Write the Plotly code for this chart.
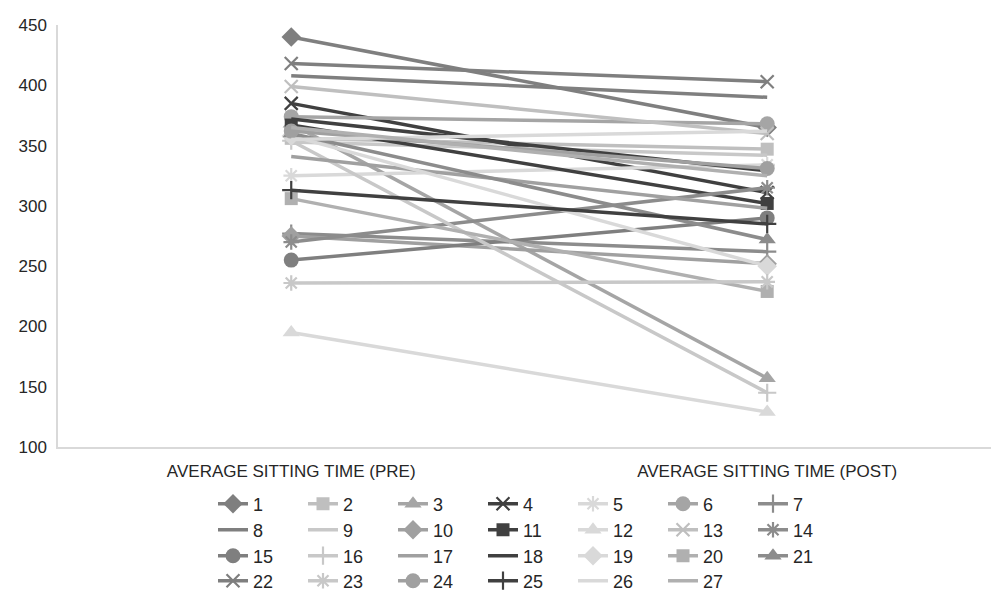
import plotly.graph_objects as go

categories = ["AVERAGE SITTING TIME (PRE)", "AVERAGE SITTING TIME (POST)"]
names = [str(i) for i in range(1, 28)]
pre = [440, 356, 368, 385, 325, 374, 277, 408, 353, 275, 367, 195, 399, 270,
       255, 354, 341, 372, 358, 306, 360, 418, 236, 362, 313, 355, 365]
post = [365, 347, 157, 311, 334, 368, 262, 390, 342, 252, 302, 129, 360, 315,
        290, 145, 298, 329, 250, 229, 272, 403, 237, 331, 285, 362, 325]
y_ticks = [100, 150, 200, 250, 300, 350, 400, 450]

colors = ["#7f7f7f", "#bfbfbf", "#a5a5a5", "#404040", "#d9d9d9", "#a5a5a5", "#8c8c8c",
          "#7f7f7f", "#c8c8c8", "#a0a0a0", "#404040", "#d9d9d9", "#bfbfbf", "#8c8c8c",
          "#7f7f7f", "#c8c8c8", "#a0a0a0", "#404040", "#d9d9d9", "#b0b0b0", "#8c8c8c",
          "#7f7f7f", "#c8c8c8", "#a0a0a0", "#404040", "#d9d9d9", "#b0b0b0"]
symbols = ["diamond", "square", "triangle-up", "x-thin-open", "asterisk-open", "circle", "cross-thin-open",
           None, None, "diamond", "square", "triangle-up", "x-thin-open", "asterisk-open",
           "circle", "cross-thin-open", None, None, "diamond", "square", "triangle-up",
           "x-thin-open", "asterisk-open", "circle", "cross-thin-open", None, None]
sizes = {"diamond": 15, "square": 13, "triangle-up": 15, "x-thin-open": 13,
         "asterisk-open": 13, "circle": 15, "cross-thin-open": 13}

W, H = 991, 584
legend_ids = ["legend", "legend2", "legend3", "legend4"]
row_centers = [504, 530, 556, 581]

fig = go.Figure()
for i, n in enumerate(names):
    s = symbols[i]
    c = colors[i]
    if s is None:
        mode = "lines"
        marker = dict()
    else:
        mode = "lines+markers"
        if s.endswith("-open"):
            marker = dict(symbol=s, size=sizes[s], color=c, line=dict(color=c, width=2.2))
        else:
            marker = dict(symbol=s, size=sizes[s], color=c, line=dict(width=0))
    fig.add_trace(go.Scatter(
        x=categories, y=[pre[i], post[i]], name=n, mode=mode,
        line=dict(color=c, width=3.5), marker=marker,
        legend=legend_ids[i // 7],
    ))

leg_common = dict(
    orientation="h", xref="container", yref="container",
    xanchor="left", yanchor="middle",
    font=dict(size=18, color="#262626"),
    entrywidth=45, entrywidthmode="pixels",
    tracegroupgap=0, itemwidth=30, bgcolor="rgba(0,0,0,0)",
)
legends = {}
for k, lid in enumerate(legend_ids):
    legends[lid] = dict(leg_common, x=205 / W, y=1 - (row_centers[k] - 8) / H)

fig.update_layout(
    width=W, height=H,
    margin=dict(l=50, r=0, t=17, b=145),
    plot_bgcolor="white", paper_bgcolor="white",
    font=dict(family="Liberation Sans, Arial, sans-serif", color="#404040"),
    xaxis=dict(
        type="category", range=[-0.49, 1.487],
        showgrid=False, showline=True, linecolor="#d9d9d9", linewidth=1.5,
        ticks="", tickfont=dict(size=17, color="#262626"), zeroline=False,
        ticklabelstandoff=8,
    ),
    yaxis=dict(
        range=[100, 450], tickvals=y_ticks, showgrid=False,
        showline=True, linecolor="#d9d9d9", linewidth=1.5,
        ticks="", tickfont=dict(size=17, color="#262626"), zeroline=False,
        ticklabelstandoff=6,
    ),
    **legends,
)

fig.write_html("out.html")
